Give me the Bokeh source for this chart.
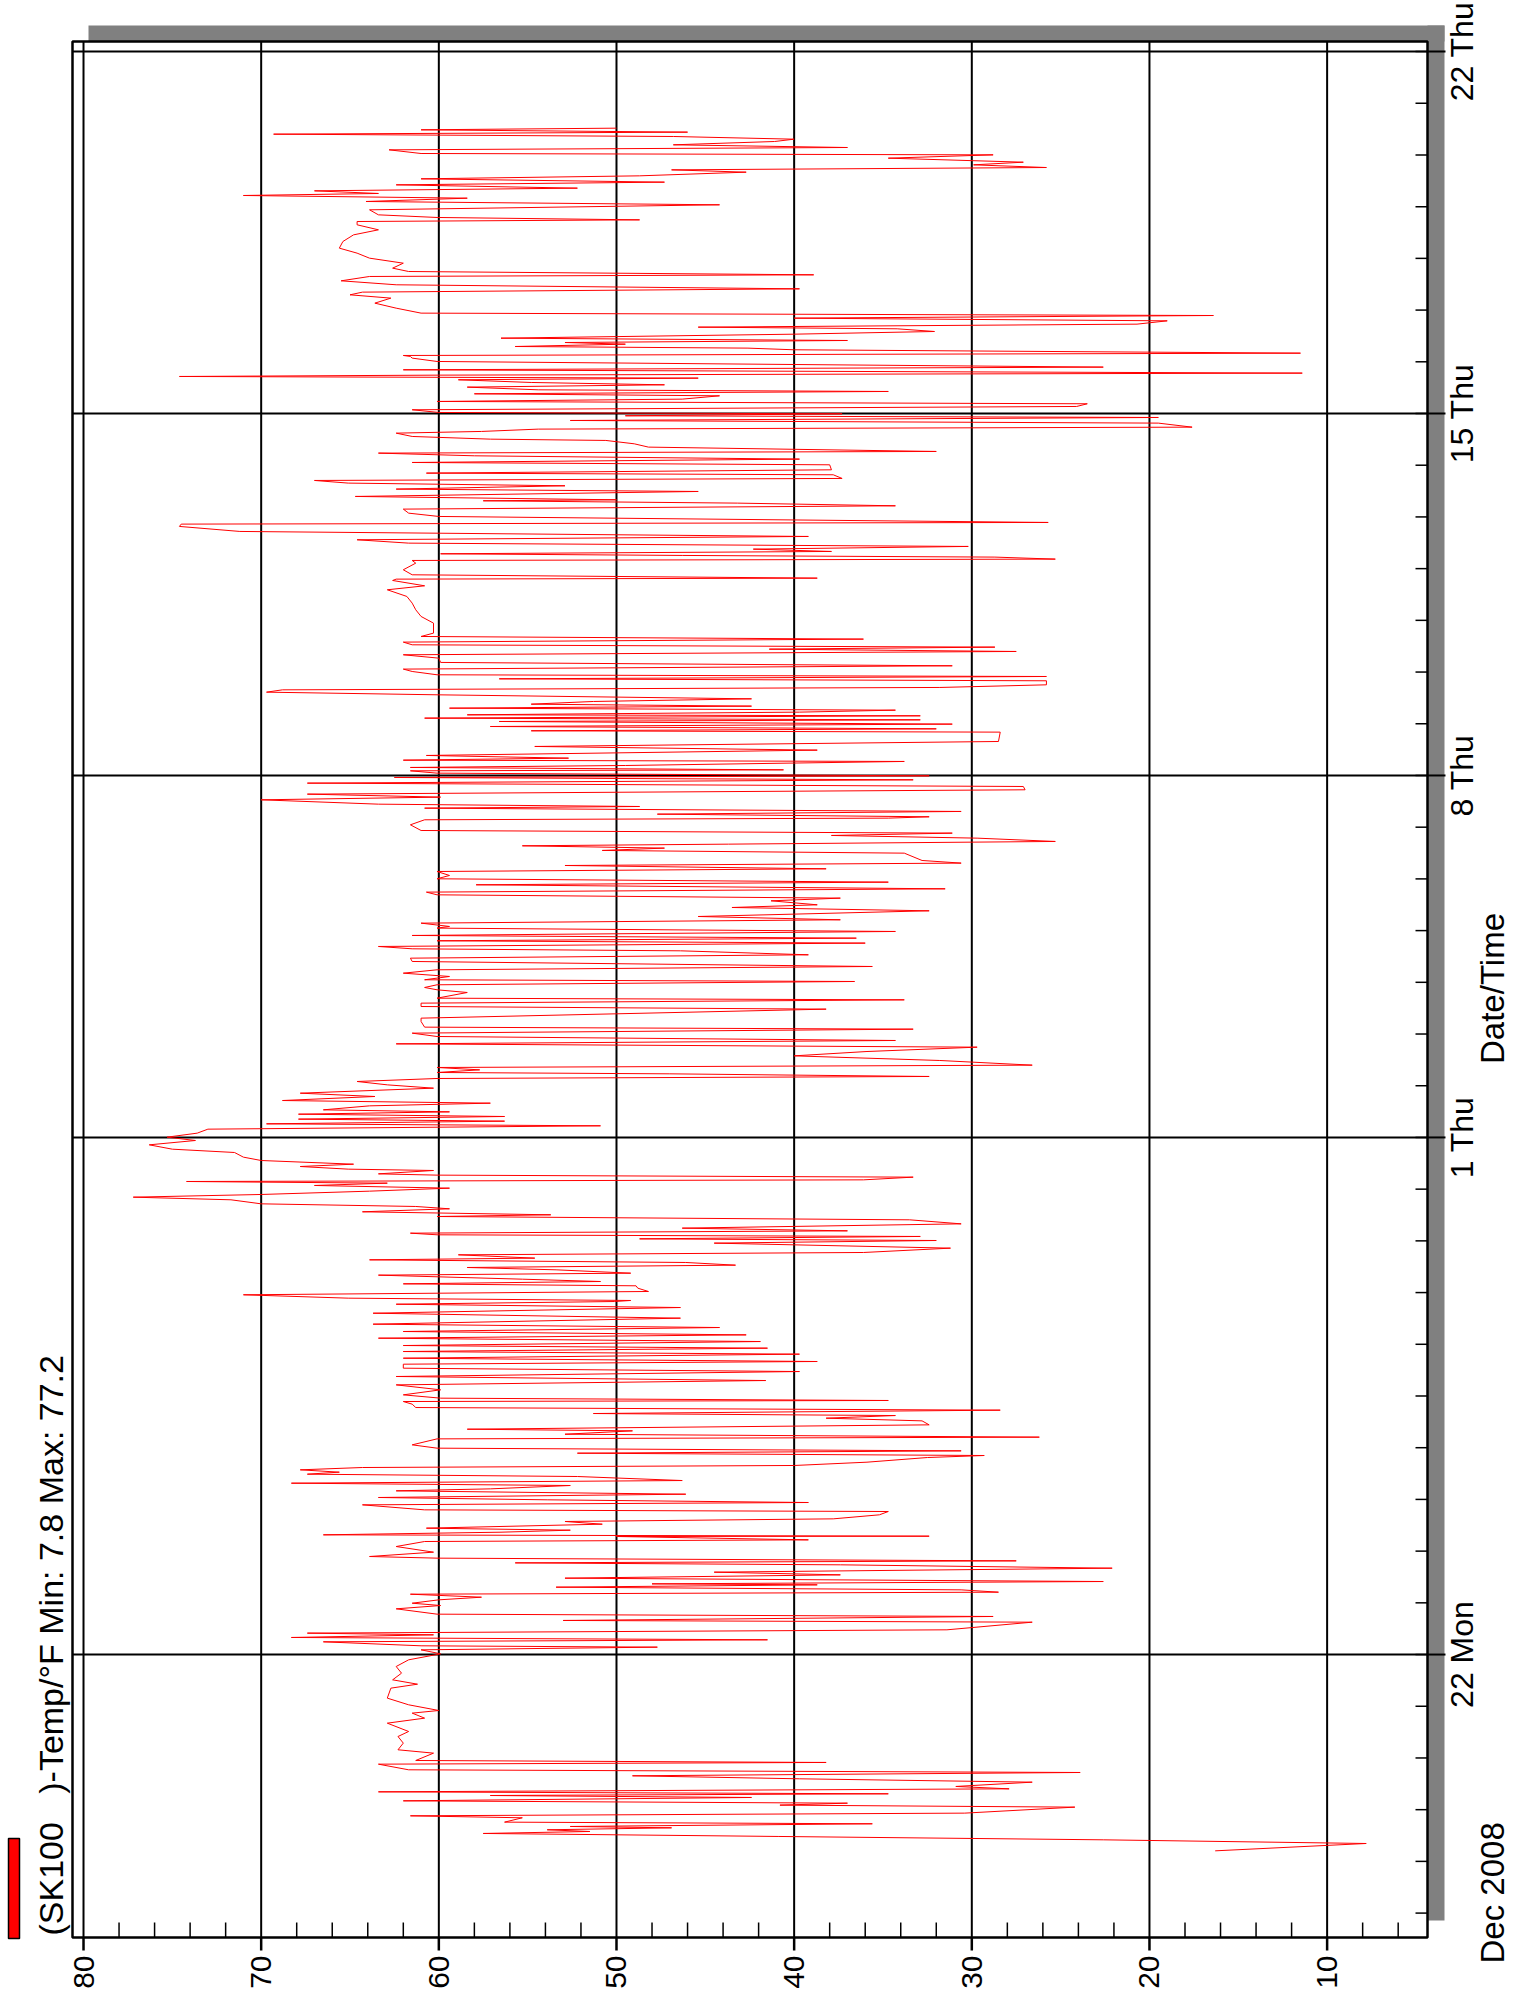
import math
import pandas as pd
from bokeh.plotting import figure
from bokeh.models import Range1d, ColumnDataSource
from bokeh.core.properties import value
from bokeh.embed import file_html
from bokeh.resources import INLINE

# ---- data: days since 2008-12-16 00:00, temperature in deg F ----
days = [
    2.204, 2.346, 2.417, 2.482, 2.540, 2.578, 2.611, 2.649, 2.675, 2.727,
    2.759, 2.843, 2.881, 2.933, 3.049, 3.088, 3.126, 3.171, 3.236, 3.274,
    3.307, 3.345, 3.403, 3.449, 3.532, 3.597, 3.655, 3.719, 3.771, 3.880,
    3.913, 3.951, 4.093, 4.158, 4.287, 4.415, 4.512, 4.673, 4.770, 4.867,
    4.918, 5.028, 5.157, 5.350, 5.427, 5.511, 5.640, 5.769, 5.898, 6.014,
    6.091, 6.143, 6.169, 6.246, 6.285, 6.330, 6.381, 6.414, 6.478, 6.626,
    6.659, 6.736,
    6.781, 6.884, 6.948, 6.993, 7.058, 7.109, 7.167, 7.206, 7.251, 7.303,
    7.348, 7.367, 7.412, 7.477, 7.541, 7.593, 7.670, 7.735, 7.773, 7.812,
    7.864, 7.896, 7.980, 8.089, 8.186, 8.218, 8.283, 8.289, 8.315, 8.366,
    8.405, 8.444, 8.521, 8.573, 8.624, 8.702, 8.766, 8.798, 8.895, 8.940,
    8.992, 9.037, 9.101, 9.166, 9.204, 9.269, 9.314, 9.365, 9.443, 9.488,
    9.527, 9.572, 9.617, 9.656, 9.720, 9.810, 9.849, 9.894, 9.939, 9.991,
    10.055, 10.171, 10.204, 10.261, 10.326, 10.358, 10.442, 10.519, 10.571, 10.622,
    10.661, 10.726, 10.777, 10.842, 10.893, 10.913, 10.958, 11.022, 11.119, 11.215,
    11.299, 11.377, 11.473, 11.538, 11.615, 11.667, 11.731, 11.809, 11.860, 11.925,
    11.976, 12.053, 12.118, 12.182, 12.247, 12.324, 12.389, 12.505, 12.601, 12.711,
    12.775, 12.827,
    12.847, 12.892, 12.957, 13.021, 13.085, 13.131, 13.169, 13.214, 13.259, 13.337,
    13.375, 13.440, 13.485, 13.530, 13.582, 13.633, 13.666, 13.730, 13.775, 13.859,
    13.956, 14.007, 14.039, 14.085, 14.117, 14.149, 14.194, 14.246, 14.329, 14.407,
    14.471, 14.504, 14.562, 14.620, 14.665, 14.716, 14.794, 14.845, 14.897, 14.961,
    15.019, 15.071, 15.116, 15.148, 15.180, 15.232, 15.271, 15.296, 15.361, 15.387,
    15.438, 15.483, 15.554, 15.619, 15.709, 15.773, 15.857, 15.941, 16.005, 16.083,
    16.160, 16.225, 16.263, 16.315, 16.354, 16.405, 16.450, 16.495, 16.534, 16.611,
    16.663, 16.714, 16.792, 16.856, 16.953, 17.017, 17.082, 17.140, 17.179, 17.230,
    17.256, 17.307, 17.353, 17.398, 17.488, 17.578, 17.662, 17.746, 17.810, 17.875,
    17.952, 18.017, 18.094, 18.133, 18.242, 18.307, 18.481, 18.532, 18.597, 18.661,
    18.693, 18.803, 18.855, 18.900,
    18.952, 19.016, 19.049, 19.113, 19.177, 19.242, 19.306, 19.403, 19.467, 19.532,
    19.609, 19.648, 19.693, 19.758, 19.803, 19.854, 19.906, 19.983, 20.048, 20.080,
    20.144, 20.209, 20.273, 20.383, 20.447, 20.499, 20.576, 20.628, 20.692, 20.744,
    20.808, 20.886, 20.937, 21.002, 21.066, 21.143, 21.195, 21.259, 21.305, 21.356,
    21.498, 21.550, 21.595, 21.640, 21.672, 21.724, 21.788, 21.840, 21.885, 21.936,
    22.046, 22.143, 22.175, 22.201, 22.252, 22.304, 22.368, 22.400, 22.445, 22.529,
    22.581, 22.639, 22.723, 22.787, 22.852, 22.916, 22.961, 22.993, 23.045, 23.090,
    23.109, 23.155, 23.193, 23.271, 23.296, 23.335, 23.387, 23.490, 23.561, 23.657,
    23.838, 23.864, 23.902, 23.947, 23.993, 24.044, 24.076, 24.109, 24.154, 24.173,
    24.225, 24.263, 24.302, 24.341, 24.379, 24.431, 24.482, 24.560, 24.611, 24.656,
    24.702, 24.753, 24.831, 24.869, 24.914, 24.947, 25.011,
    25.057, 25.121, 25.186, 25.269, 25.334, 25.398, 25.443, 25.482, 25.527, 25.579,
    25.637, 25.688, 25.753, 25.946, 26.075, 26.204, 26.333, 26.462, 26.591, 26.668,
    26.771, 26.797, 26.816, 26.881, 26.978, 27.106, 27.158, 27.184, 27.223, 27.255,
    27.287, 27.332, 27.377, 27.429, 27.493, 27.558, 27.622, 27.719, 27.816, 27.861,
    27.893, 28.009, 28.073, 28.151, 28.215, 28.267, 28.312, 28.331, 28.396, 28.492,
    28.538, 28.602, 28.654, 28.705, 28.744, 28.815, 28.847, 28.911, 29.008, 29.053,
    29.118, 29.182, 29.234, 29.266, 29.350, 29.414, 29.479, 29.504, 29.556, 29.620,
    29.653, 29.698, 29.736, 29.814, 29.865, 29.923, 29.956, 29.994, 30.020, 30.072,
    30.136, 30.188, 30.233, 30.278, 30.342, 30.381, 30.426, 30.458, 30.510, 30.555,
    30.600, 30.652, 30.684, 30.716, 30.742, 30.781, 30.845, 30.897, 31.006, 31.071,
    31.103,
    31.122, 31.167, 31.232, 31.264, 31.296, 31.341, 31.373, 31.412, 31.457, 31.534,
    31.586, 31.638, 31.670, 31.728, 31.792, 31.844, 31.895, 31.941, 32.037, 32.134,
    32.231, 32.295, 32.347, 32.411, 32.489, 32.566, 32.650, 32.682, 32.746, 32.811,
    32.907, 33.004, 33.101, 33.198, 33.326, 33.455, 33.552, 33.649, 33.713, 33.745,
    33.791, 33.842, 33.939, 34.036, 34.100, 34.164, 34.216, 34.255, 34.306, 34.358,
    34.422, 34.474, 34.538, 34.596, 34.667, 34.712, 34.757, 34.809, 34.860, 34.938,
    35.002, 35.028, 35.099, 35.144, 35.196, 35.260, 35.305, 35.357, 35.402, 35.441,
    35.486, 35.518,
]

temps = [
    16.3, 7.8, 22.6, 40.9, 57.5, 51.5, 53.9, 46.9, 52.6, 35.6,
    56.3, 55.3, 61.6, 30.4, 24.2, 40.8, 37.0, 62.0, 42.4, 57.1,
    34.7, 63.4, 27.9, 30.9, 26.6, 39.7, 49.1, 23.9, 61.7, 63.4,
    38.2, 61.3, 60.3, 62.3, 62.0, 62.3, 61.7, 62.9, 60.8, 61.5,
    60.0, 61.7, 62.9, 62.7, 61.2, 62.6, 62.1, 62.4, 61.7, 59.9,
    61.0, 47.7, 61.0, 66.5, 41.5, 68.3, 60.3, 67.4, 31.4, 26.6,
    53.0, 28.8,
    60.1, 62.4, 59.9, 61.5, 60.0, 57.6, 61.6, 28.5, 30.6, 53.4,
    38.7, 48.0, 22.6, 52.9, 37.4, 44.5, 22.1, 37.4, 55.7, 27.5,
    60.1, 63.9, 60.3, 62.4, 60.8, 39.2, 50.0, 32.4, 66.5, 56.5,
    52.6, 60.7, 50.8, 52.9, 37.8, 35.2, 34.7, 60.8, 64.3, 39.2,
    53.9, 63.4, 46.1, 62.4, 57.1, 52.6, 68.3, 46.3, 52.2, 67.4,
    65.6, 67.8, 64.3, 40.0, 35.9, 32.5, 29.3, 52.2, 30.6, 60.1,
    61.5, 60.1, 26.2, 52.9, 49.1, 58.4, 32.4, 32.8, 38.2, 34.3,
    51.3, 28.4, 61.3, 61.5, 62.0, 34.7, 59.9, 62.0, 59.9, 62.4,
    41.6, 62.4, 39.7, 62.0, 62.0, 38.7, 62.0, 39.7, 62.0, 41.5,
    62.0, 41.9, 63.4, 42.7, 62.0, 44.2, 63.7, 46.4, 63.7, 46.4,
    62.4, 50.1,
    49.2, 65.1, 71.0, 48.2, 48.8, 48.9, 62.0, 50.9, 55.3, 63.4,
    49.2, 53.4, 58.4, 43.3, 46.1, 63.9, 54.6, 58.9, 36.1, 31.2,
    44.5, 32.0, 48.7, 32.9, 60.1, 61.6, 37.0, 46.3, 30.6, 33.5,
    60.1, 53.7, 64.3, 59.4, 61.3, 70.0, 71.7, 77.2, 70.0, 63.9,
    59.4, 67.0, 62.9, 74.2, 36.1, 33.3, 60.1, 63.4, 60.3, 65.1,
    67.8, 64.8, 70.0, 71.0, 71.5, 75.0, 76.3, 73.7, 75.3, 73.6,
    73.0, 50.9, 69.7, 56.3, 67.9, 56.3, 67.9, 59.4, 66.5, 63.9,
    57.1, 68.8, 63.6, 67.8, 60.3, 62.9, 64.6, 60.1, 32.4, 47.0,
    60.1, 57.7, 60.1, 26.6, 31.8, 40.0, 35.9, 29.7, 62.4, 34.3,
    60.1, 61.5, 33.3, 60.8, 61.0, 61.0, 38.2, 61.0, 61.0, 33.8,
    60.1, 58.4, 60.1, 60.8,
    60.1, 36.6, 60.8, 59.4, 62.0, 60.1, 35.6, 61.5, 61.6, 39.2,
    46.4, 61.5, 63.4, 36.0, 60.1, 36.5, 61.5, 34.3, 60.1, 59.4,
    61.0, 37.4, 45.4, 32.4, 43.5, 38.7, 41.3, 37.4, 60.1, 60.7,
    31.5, 57.9, 34.7, 60.1, 59.4, 60.1, 38.2, 52.9, 30.6, 32.8,
    33.8, 50.8, 47.3, 55.3, 43.7, 25.3, 29.7, 37.9, 31.1, 61.0,
    61.6, 60.8, 34.7, 32.4, 47.7, 30.6, 60.8, 48.7, 63.4, 70.0,
    59.9, 67.4, 27.0, 27.1, 67.4, 33.3, 62.5, 32.4, 60.1, 61.6,
    40.6, 61.6, 49.5, 33.8, 62.0, 52.7, 60.7, 38.7, 54.6, 28.5,
    28.4, 54.8, 32.0, 57.1, 31.1, 56.6, 32.9, 60.8, 32.9, 58.4,
    39.7, 34.3, 59.4, 42.4, 54.8, 51.3, 42.4, 60.1, 69.7, 68.8,
    31.8, 25.8, 25.8, 56.6, 25.8, 60.1, 61.5,
    62.0, 31.1, 59.9, 60.0, 62.0, 27.5, 41.4, 28.7, 61.5, 62.0,
    36.1, 61.0, 60.3, 60.3, 61.0, 61.3, 61.5, 61.8, 62.9, 60.8,
    62.6, 62.4, 38.7, 61.5, 62.0, 61.3, 61.5, 25.3, 28.7, 46.3,
    59.9, 37.9, 42.3, 30.2, 61.7, 64.6, 39.2, 71.2, 74.6, 74.5,
    25.7, 60.0, 61.7, 62.0, 34.3, 43.2, 57.5, 50.0, 64.7, 45.4,
    62.4, 52.9, 65.1, 67.0, 37.3, 37.8, 60.7, 37.9, 38.0, 61.5,
    39.7, 58.0, 63.4, 32.0, 48.2, 49.0, 50.6, 57.1, 61.5, 62.4,
    57.6, 54.4, 17.6, 19.5, 52.6, 19.5, 49.5, 37.3, 60.0, 61.5,
    24.1, 23.5, 60.1, 46.3, 44.2, 58.0, 34.7, 54.4, 58.4, 47.3,
    54.8, 58.9, 45.4, 74.6, 60.0, 11.4, 62.0, 22.6, 60.1, 61.5,
    61.6,
    62.0, 11.5, 40.0, 42.6, 55.7, 49.5, 52.9, 37.0, 56.5, 40.0,
    32.1, 34.2, 45.4, 20.7, 19.0, 40.0, 16.4, 61.0, 62.4, 63.6,
    62.7, 65.0, 64.3, 39.7, 62.4, 65.5, 63.9, 38.9, 61.7, 62.6,
    62.0, 63.9, 64.6, 65.6, 65.4, 64.8, 63.4, 64.6, 64.6, 48.7,
    60.1, 63.4, 63.9, 44.2, 64.1, 58.4, 71.0, 63.4, 67.0, 52.2,
    62.4, 47.3, 61.0, 48.7, 42.7, 46.9, 25.8, 29.9, 27.1, 34.7,
    28.8, 61.0, 62.8, 37.0, 46.8, 41.1, 40.0, 46.8, 69.3, 46.0,
    61.0, 50.0,
]

temp_major = [10, 20, 30, 40, 50, 60, 70, 80]
temp_minor = [6, 8, 12, 14, 16, 18, 22, 24, 26, 28, 32, 34, 36, 38, 42, 44, 46, 48,
              52, 54, 56, 58, 62, 64, 66, 68, 72, 74, 76, 78]
date_major = ["2008-12-22", "2009-01-01", "2009-01-08", "2009-01-15", "2009-01-22"]
date_major_labels = ["22 Mon", "1 Thu", "8 Thu", "15 Thu", "22 Thu"]
date_minor = [str(d.date()) for d in pd.date_range("2008-12-17", "2009-01-22", freq="D")]

series_name = "(SK100\u00a0\u00a0\u00a0)-Temp/°F Min: 7.8 Max: 77.2"
period_label = "Dec 2008"
axis_title = "Date/Time"

# ---- scales: temperature across (reversed), time upward ----
origin = pd.Timestamp("2008-12-16")
EPOCH = pd.Timestamp("1970-01-01")
DAY_MS = 86_400_000.0
ORIGIN_MS = float((origin - EPOCH) / pd.Timedelta(milliseconds=1))


def date_ms(s):
    return float((pd.Timestamp(s) - EPOCH) / pd.Timedelta(milliseconds=1))


def day_ms(d):
    return ORIGIN_MS + d * DAY_MS


W, H = 1518, 2007
FRAME_L, FRAME_R, FRAME_T, FRAME_B = 72, 1427, 41, 1937   # plot box in page pixels
T_L, T_R = 80.62, 4.35            # temperature at left / right edge of the plot box
D_B, D_T = 0.528, 37.194          # days (since origin) at bottom / top edge
KX = (FRAME_R - FRAME_L) / (T_L - T_R)
KY = (FRAME_B - FRAME_T) / (D_T - D_B)


def tx(px):
    return T_L - (px - FRAME_L) / KX


def ty(py):
    return day_ms(D_B + (FRAME_B - py) / KY)


YB, YT = day_ms(D_B), day_ms(D_T)
FONT = value("Liberation Sans")

p = figure(width=W, height=H, x_range=Range1d(tx(0), tx(W)), y_range=Range1d(ty(H), ty(0)),
           x_axis_location=None, y_axis_location=None, output_backend="svg",
           toolbar_location=None, title=None, min_border=0)
p.outline_line_color = None
p.background_fill_color = "white"
p.border_fill_color = "white"
p.xgrid.visible = False
p.ygrid.visible = False

# drop shadow of the plot box
p.quad(left=[tx(FRAME_R), tx(88)], right=[tx(1444), tx(1444)],
       top=[ty(25), ty(25)], bottom=[ty(1920), ty(FRAME_T)],
       fill_color="#808080", line_color=None)

# grid lines
dmaj = [date_ms(d) for d in date_major]
dmin = [date_ms(d) for d in date_minor]
p.segment(x0=temp_major, y0=[YB] * len(temp_major), x1=temp_major, y1=[YT] * len(temp_major),
          line_color="black", line_width=2)
p.segment(x0=[T_L] * len(dmaj), y0=dmaj, x1=[T_R] * len(dmaj), y1=dmaj,
          line_color="black", line_width=2)

# the series
src = ColumnDataSource(data=dict(t=[day_ms(d) for d in days], temp=temps))
p.line(x="temp", y="t", source=src, line_color="red", line_width=1)

# plot box
p.quad(left=[T_L], right=[T_R], bottom=[YB], top=[YT], fill_color=None,
       line_color="black", line_width=2.5)

# temperature axis ticks (bottom)
p.segment(x0=temp_minor, y0=[YB] * len(temp_minor), x1=temp_minor,
          y1=[ty(FRAME_B - 15)] * len(temp_minor), line_color="black", line_width=1.5)
p.segment(x0=temp_major, y0=[YB] * len(temp_major), x1=temp_major,
          y1=[ty(FRAME_B + 13)] * len(temp_major), line_color="black", line_width=2.5)
# date axis ticks (right)
p.segment(x0=[T_R] * len(dmin), y0=dmin, x1=[tx(FRAME_R - 12)] * len(dmin), y1=dmin,
          line_color="black", line_width=1.5)
p.segment(x0=[T_R] * len(dmaj), y0=dmaj, x1=[tx(1445)] * len(dmaj), y1=dmaj,
          line_color="black", line_width=2)

ANG = math.pi / 2
MID = value("middle")
# tick labels
p.text(x=temp_major, y=[ty(1955)] * len(temp_major), text=[str(t) for t in temp_major],
       angle=ANG, text_align=value("right"), text_baseline=MID,
       text_font=FONT, text_font_size=value("30px"), text_color="black")
p.text(x=[tx(1461)] * len(dmaj), y=dmaj, text=date_major_labels,
       angle=ANG, text_align=value("center"), text_baseline=MID,
       text_font=FONT, text_font_size=value("32px"), text_color="black")
# axis title and period label
p.text(x=[tx(1492)], y=[ty(988)], text=[axis_title], angle=ANG,
       text_align=value("center"), text_baseline=MID,
       text_font=FONT, text_font_size=value("33px"), text_color="black")
p.text(x=[tx(1492)], y=[ty(1963)], text=[period_label], angle=ANG,
       text_align=value("left"), text_baseline=MID,
       text_font=FONT, text_font_size=value("33px"), text_color="black")

# legend
p.quad(left=[tx(8)], right=[tx(19)], top=[ty(1838)], bottom=[ty(1938)],
       fill_color="red", line_color="black", line_width=1.5)
p.text(x=[tx(50)], y=[ty(1935)], text=[series_name], angle=ANG,
       text_align=value("left"), text_baseline=MID,
       text_font=FONT, text_font_size=value("34px"), text_color="black")

open("out.html", "w").write(file_html(p, INLINE))
